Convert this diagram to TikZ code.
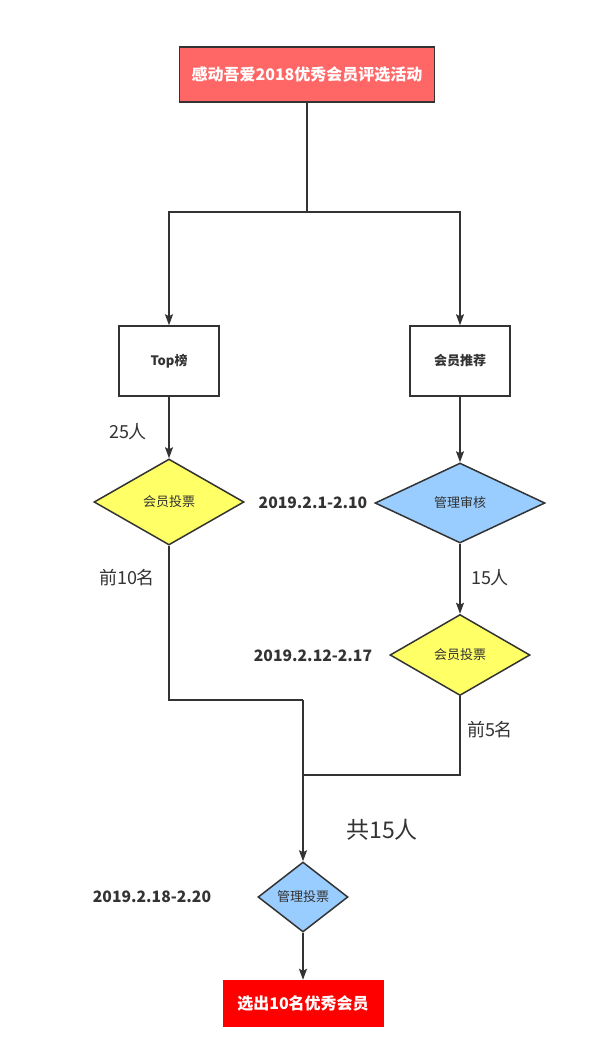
\documentclass[tikz,border=0pt]{standalone}
\usepackage{fontspec}
\setmainfont{Noto Sans CJK SC}
\usetikzlibrary{positioning, shapes.geometric}
\usetikzlibrary{arrows, arrows.meta}
\definecolor{ink}{HTML}{333333}
\definecolor{salmon}{HTML}{FF6666}
\definecolor{votey}{HTML}{FFFF66}
\definecolor{adminb}{HTML}{99CCFF}
\tikzset{
  stage/.style={draw=ink, line width=1.5pt, minimum width=100pt, minimum height=70pt,
    font=\bfseries\fontsize{13}{15}\selectfont, text=ink},
  gate/.style={diamond, draw=ink, line width=1.5pt, inner sep=0pt,
    font=\fontsize{13}{15}\selectfont, text=ink},
  note/.style={text=ink, font=\fontsize{18}{20}\selectfont},
  date/.style={text=ink, font=\bfseries\fontsize{15.7}{18}\selectfont},
  link/.style={draw=ink, line width=1.5pt},
  arr/.style={link, -{Stealth[length=11pt, width=8pt, inset=2pt]}}
}
\begin{document}
\begin{tikzpicture}[x=1pt, y=-1pt]
        \fill[white] (0,0) rectangle (601,1061);
        \useasboundingbox (0,0) rectangle (601,1061);
        % stages
        \node[stage, fill=salmon, text=white, minimum width=255pt, minimum height=55pt,
          font=\bfseries\fontsize{16}{18}\selectfont] (start) at (307,74.5) {感动吾爱2018优秀会员评选活动};
        \node[stage] (topb) at (169,361) {Top榜};
        \node[stage] (recm) at (460,361) {会员推荐};
        \node[gate, fill=votey, minimum width=150pt, minimum height=86pt] (vote) at (169,502) {会员投票};
        \node[gate, fill=adminb, minimum width=170pt, minimum height=80pt] (check) at (460,503) {管理审核};
        \node[gate, fill=votey, minimum width=140pt, minimum height=81pt] (rvote) at (460,655) {会员投票};
        \node[gate, fill=adminb, minimum width=90pt, minimum height=70pt] (mvote) at (303,897) {管理投票};
        \node[fill=red, text=white, minimum width=161pt, minimum height=47pt,
          font=\bfseries\fontsize{16}{18}\selectfont] (pick) at (303,1003.5) {选出10名优秀会员};
        % labels
        \node[note] (n25) at (128,432) {25人};
        \node[note] (top10) at (127,578) {前10名};
        \node[note] (n15) at (490,578) {15人};
        \node[note] (top5) at (490,730) {前5名};
        \node[note, font=\fontsize{23}{25}\selectfont] (sum) at (382,830) {共15人};
        \node[date] (d1) at (313,503) {2019.2.1-2.10};
        \node[date] (d2) at (313,656) {2019.2.12-2.17};
        \node[date] (d3) at (152,897) {2019.2.18-2.20};
        % connectors
        \coordinate (fork) at (307,212);
        \coordinate (joinl) at (303,700);
        \coordinate (joinr) at (303,775);
        \draw[link] (start) -- (fork);
        \foreach \dst in {topb, recm} {
          \draw[arr] (fork) -| (\dst);
        }
        \draw[arr] (topb) -- (vote);
        \draw[arr] (recm) -- (check);
        \draw[arr] (check) -- (rvote);
        \draw[link] (vote.south) |- (joinl);
        \draw[link] (rvote.south) |- (joinr);
        \draw[arr] (joinl) -- (mvote);
        \draw[arr] (mvote) -- (pick);
\end{tikzpicture}
\end{document}
